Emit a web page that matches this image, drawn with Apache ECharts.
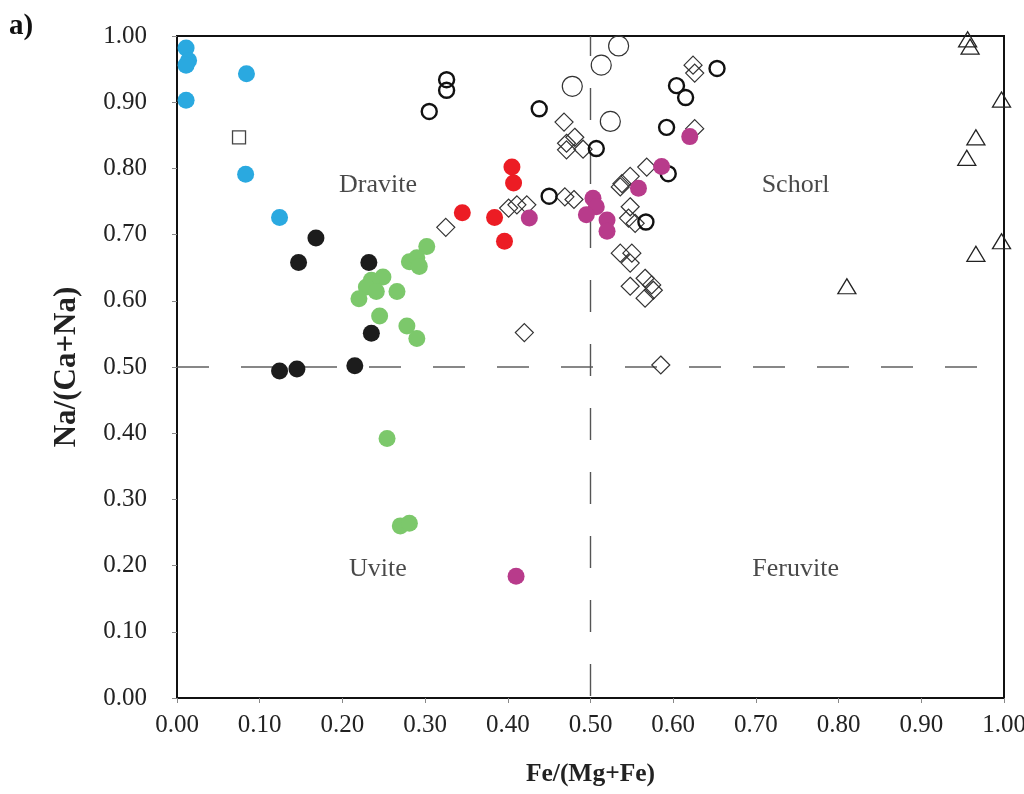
<!DOCTYPE html>
<html>
<head>
<meta charset="utf-8">
<script src="https://cdn.jsdelivr.net/npm/echarts@6/dist/echarts.min.js"></script>
<style>
  html, body { margin: 0; padding: 0; background: #fff; }
  #chart { width: 1024px; height: 794px; }
</style>
</head>
<body>
<div id="chart"></div>
<script>
// Fe/(Mg+Fe) vs Na/(Ca+Na) tourmaline classification plot

const axisTicks = [0, 0.1, 0.2, 0.3, 0.4, 0.5, 0.6, 0.7, 0.8, 0.9, 1.0];

// filled groups
const blueDots = [
  [0.011, 0.982], [0.014, 0.963], [0.011, 0.956], [0.011, 0.903],
  [0.084, 0.943], [0.083, 0.791], [0.124, 0.726]
];
const blackDots = [
  [0.168, 0.695], [0.147, 0.658], [0.232, 0.658], [0.235, 0.551],
  [0.124, 0.494], [0.145, 0.497], [0.215, 0.502]
];
const greenDots = [
  [0.302, 0.682], [0.281, 0.659], [0.290, 0.665], [0.293, 0.652],
  [0.249, 0.636], [0.235, 0.631], [0.229, 0.621], [0.241, 0.614],
  [0.220, 0.603], [0.266, 0.614], [0.245, 0.577], [0.278, 0.562],
  [0.290, 0.543], [0.254, 0.392], [0.270, 0.260], [0.281, 0.264]
];
const redDots = [
  [0.405, 0.802], [0.407, 0.778], [0.345, 0.733], [0.384, 0.726],
  [0.396, 0.690]
];
const magentaDots = [
  [0.426, 0.725], [0.586, 0.803], [0.558, 0.770], [0.503, 0.755],
  [0.507, 0.742], [0.495, 0.730], [0.520, 0.722], [0.520, 0.705],
  [0.620, 0.848], [0.410, 0.184]
];

// open groups
const openCircles = [
  [0.326, 0.934], [0.326, 0.918], [0.305, 0.886], [0.438, 0.890],
  [0.507, 0.830], [0.450, 0.758], [0.567, 0.719], [0.592, 0.862],
  [0.594, 0.792], [0.604, 0.925], [0.615, 0.907], [0.653, 0.951]
];
const largeRings = [
  [0.534, 0.985], [0.513, 0.956], [0.478, 0.924], [0.524, 0.871]
];
const diamonds = [
  [0.468, 0.870], [0.471, 0.838], [0.481, 0.847], [0.471, 0.828],
  [0.491, 0.829], [0.325, 0.711], [0.401, 0.740], [0.411, 0.745],
  [0.423, 0.745], [0.469, 0.757], [0.480, 0.753], [0.624, 0.956],
  [0.626, 0.944], [0.626, 0.860], [0.568, 0.802], [0.548, 0.788],
  [0.538, 0.777], [0.536, 0.772], [0.548, 0.742], [0.546, 0.725],
  [0.554, 0.717], [0.536, 0.672], [0.550, 0.672], [0.548, 0.657],
  [0.548, 0.622], [0.566, 0.634], [0.574, 0.624], [0.576, 0.616],
  [0.566, 0.604], [0.420, 0.552], [0.585, 0.503]
];
const triangles = [
  [0.956, 0.995], [0.959, 0.984], [0.997, 0.904], [0.966, 0.847],
  [0.955, 0.816], [0.997, 0.690], [0.966, 0.671], [0.810, 0.622]
];
const squares = [[0.075, 0.847]];

// field boundaries and field names
const boundaryX = [[0.5, 1], [0.5, 0]];
const boundaryY = [[0, 0.5], [0.97, 0.5]];
const fieldNames = [
  ['Dravite', 0.243, 0.775], ['Schorl', 0.748, 0.775],
  ['Uvite', 0.243, 0.195], ['Feruvite', 0.748, 0.195]
];

const serif = '"Liberation Serif", "DejaVu Serif", serif';

function filled(data, color) {
  return {
    type: 'scatter', data, symbol: 'circle', symbolSize: 17,
    itemStyle: { color, opacity: 1 }, z: 5
  };
}
function open(data, symbol, size, width, color) {
  return {
    type: 'scatter', data, symbol, symbolSize: size,
    itemStyle: { color: 'rgba(255,255,255,0)', borderColor: color, borderWidth: width, opacity: 1 },
    z: 4
  };
}
function dashed(data, offset) {
  return {
    type: 'line', data, symbol: 'none', silent: true, z: 2,
    lineStyle: { color: '#555', width: 1.4, type: [32, 32], dashOffset: offset }
  };
}

const chart = echarts.init(document.getElementById('chart'));
chart.setOption({
  animation: false,
  backgroundColor: '#fff',
  grid: {
    left: 177, right: 20, top: 36, bottom: 96, containLabel: false, outerBoundsMode: 'none',
    show: true, borderColor: '#111', borderWidth: 2
  },
  xAxis: {
    type: 'value', min: 0, max: 1, interval: 0.1,
    name: 'Fe/(Mg+Fe)', nameLocation: 'middle', nameGap: 63,
    nameTextStyle: { fontFamily: serif, fontWeight: 'bold', fontSize: 25.5, color: '#222' },
    axisLine: { lineStyle: { color: '#111', width: 2 } },
    axisTick: { show: true, length: 5, lineStyle: { color: '#888' } },
    axisLabel: { formatter: v => v.toFixed(2), fontFamily: serif, fontSize: 25, color: '#222', margin: 15,
      customValues: axisTicks },
    splitLine: { show: false }
  },
  yAxis: {
    type: 'value', min: 0, max: 1, interval: 0.1,
    name: 'Na/(Ca+Na)', nameLocation: 'middle', nameGap: 95, nameRotate: 90,
    nameTextStyle: { fontFamily: serif, fontWeight: 'bold', fontSize: 31, color: '#222' },
    axisLine: { lineStyle: { color: '#111', width: 2 } },
    axisTick: { show: true, length: 5, lineStyle: { color: '#888' } },
    axisLabel: { formatter: v => v.toFixed(2), fontFamily: serif, fontSize: 25, color: '#222', margin: 30 },
    splitLine: { show: false }
  },
  graphic: [{
    type: 'text', left: 9, top: 12,
    style: { text: 'a)', font: 'bold 29px ' + serif, fill: '#111' }
  }],
  series: [
    dashed(boundaryX, 12),
    dashed(boundaryY, 0),
    {
      type: 'scatter', symbolSize: 0, silent: true, z: 3,
      data: fieldNames.map(f => ({ name: f[0], value: [f[1], f[2]] })),
      label: { show: true, position: 'inside', formatter: p => p.name,
        fontFamily: serif, fontSize: 26, color: '#1a1a1a' }
    },
    open(diamonds, 'diamond', 18, 1.2, '#333'),
    open(largeRings, 'circle', 20, 1.2, '#333'),
    open(openCircles, 'circle', 15, 2.4, '#111'),
    open(triangles, 'triangle', [18, 15], 1.3, '#222'),
    open(squares, 'rect', 13, 1.3, '#444'),
    filled(blackDots, '#1c1c1c'),
    filled(greenDots, '#7cc86b'),
    filled(blueDots, '#2aa9e0'),
    filled(redDots, '#ec1c24'),
    filled(magentaDots, '#b83b8b')
  ]
});
</script>
</body>
</html>
